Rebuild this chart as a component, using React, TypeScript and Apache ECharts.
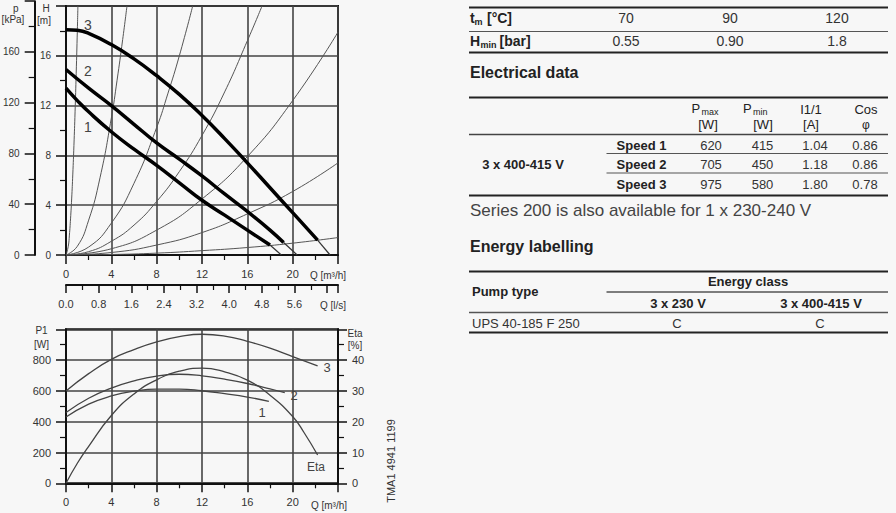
import React, { useEffect, useRef } from 'react';
import * as echarts from 'echarts';

const FONT = '"Liberation Sans", Arial, Helvetica, sans-serif';

// ---------- Top chart: H [m] vs Q [m³/h] ----------
const pumpCurve1 = [[0, 13.4], [1, 12.4], [2, 11.5], [4, 9.9], [6, 8.5], [8, 7.2], [10, 5.8], [12, 4.4], [14, 3.2], [16, 2.0], [18, 0.8]];
const pumpCurve2 = [[0, 14.9], [2, 13.4], [4, 12.0], [6, 10.5], [8, 9.0], [10, 7.7], [12, 6.35], [14, 4.9], [16, 3.5], [18, 2.0], [19.2, 1.0]];
const pumpCurve3 = [[0, 18.1], [1, 18.05], [2, 17.8], [4, 16.9], [6, 15.75], [8, 14.4], [10, 12.9], [12, 11.2], [14, 9.35], [16, 7.4], [18, 5.4], [20, 3.4], [22.2, 1.2]];
const pumpExt1 = [[18, 0.8], [19.0, 0]];
const pumpExt2 = [[19.2, 1.0], [20.4, 0]];
const pumpExt3 = [[22.2, 1.2], [23.3, 0]];

const systemCurve1 = [[0, 0], [0.2, 0.7], [0.3, 1.6], [0.4, 2.9], [0.5, 4.5], [0.6, 6.5], [0.7, 8.8], [0.8, 11.5], [0.9, 14.6], [1.0, 18.0], [1.05, 20]];
const systemCurve2 = [[0, 0], [1, 0.7], [2, 2.8], [3, 6.2], [4, 11.0], [4.5, 14.0], [5, 17.3], [5.38, 20]];
const systemCurve3 = [[0, 0], [2, 0.64], [4, 2.56], [6, 5.76], [8, 10.24], [9, 13.0], [10, 16.0], [11.18, 20]];
const systemCurve4 = [[0, 0], [2, 0.27], [4, 1.1], [6, 2.4], [8, 4.3], [10, 6.7], [12, 9.6], [14, 13.1], [16, 17.2], [17.3, 20]];
const systemCurve5 = [[0, 0], [4, 0.5], [8, 2.0], [12, 4.5], [16, 7.9], [20, 12.4], [24, 17.9]];
const systemCurve6 = [[0, 0], [4, 0.2], [8, 0.8], [12, 1.8], [16, 3.3], [20, 5.1], [24, 7.4]];
const systemCurve7 = [[0, 0], [4, 0.04], [8, 0.15], [12, 0.35], [16, 0.6], [20, 0.95], [24, 1.4]];
const systemCurves = [systemCurve1, systemCurve2, systemCurve3, systemCurve4, systemCurve5, systemCurve6, systemCurve7];

// ---------- Bottom chart: P1 [W] and Eta [%] vs Q ----------
const powerCurve1 = [[0, 430], [2, 514], [4, 567], [6, 598], [8, 612], [10, 612], [12, 601], [14, 582], [16, 560], [17.9, 532]];
const powerCurve2 = [[0, 460], [2, 552], [4, 618], [6, 665], [8, 696], [10, 708], [12, 698], [14, 676], [16, 648], [18, 613], [19.3, 588]];
const powerCurve3 = [[0, 600], [2, 712], [4, 805], [6, 868], [8, 918], [10, 952], [12, 968], [14, 956], [16, 922], [18, 878], [20, 823], [22.2, 762]];
const etaCurve = [[0, 0], [1, 6.5], [2, 12], [4, 22], [6, 29], [8, 33.6], [10, 36.4], [12, 37.4], [14, 36.2], [16, 33.5], [18, 28.6], [20, 21.7], [21, 16.5], [22.2, 9.2]];

// ---------- Tables ----------
const tempHeader = ['70', '90', '120'];
const hminValues = ['0.55', '0.90', '1.8'];
const speedLabels = ['Speed 1', 'Speed 2', 'Speed 3'];
const pmaxValues = ['620', '705', '975'];
const pminValues = ['415', '450', '580'];
const currentValues = ['1.04', '1.18', '1.80'];
const cosValues = ['0.86', '0.86', '0.78'];
const energyVoltages = ['3 x 230 V', '3 x 400-415 V'];
const energyClasses = ['C', 'C'];

function txt(x: number, y: number, text: string, size = 11, opts: any = {}) {
  const align = opts.align || 'left';
  return {
    type: 'text',
    x,
    y,
    silent: true,
    rotation: opts.rotation || 0,
    z: 100,
    style: {
      text,
      fill: opts.color || '#333',
      fontSize: size,
      fontFamily: FONT,
      fontWeight: opts.bold ? 'bold' : 'normal',
      align,
      textAlign: align,
      verticalAlign: 'middle',
      textVerticalAlign: 'middle',
    },
  };
}

function hline(x1: number, x2: number, y: number, w: number, color = '#222') {
  return {
    type: 'line',
    silent: true,
    z: 100,
    shape: { x1, y1: y, x2, y2: y },
    style: { stroke: color, lineWidth: w },
  };
}

function valueAxis(extra: any) {
  return {
    type: 'value',
    axisLine: { show: true, onZero: false, lineStyle: { color: '#111', width: 2 } },
    axisTick: { show: true, length: 9, lineStyle: { color: '#111', width: 1.5 } },
    minorTick: { show: true, splitNumber: 2, length: 5, lineStyle: { color: '#111', width: 1.2 } },
    axisLabel: { fontSize: 11, color: '#333', fontFamily: FONT },
    splitLine: { show: true, lineStyle: { color: '#444', width: 1.6 } },
    minorSplitLine: { show: false },
    ...extra,
  };
}

function lineSeries(data: number[][], xi: number, yi: number, color: string, width: number, z = 2) {
  return {
    type: 'line',
    data,
    xAxisIndex: xi,
    yAxisIndex: yi,
    showSymbol: false,
    symbol: 'none',
    smooth: true,
    silent: true,
    z,
    lineStyle: { color, width },
  };
}

export default function App() {
  const ref = useRef<HTMLDivElement>(null);

  useEffect(() => {
    if (!ref.current) return;
    const chart = echarts.init(ref.current, undefined, { renderer: 'svg' });

    const qLabel = (v: number) => (v >= 24 ? '' : String(v));

    const graphics: any[] = [];
    // Axis titles, top chart
    graphics.push(txt(13, 8.5, 'p', 10));
    graphics.push(txt(13, 19.5, '[kPa]', 10, { align: 'center' }));
    graphics.push(txt(46, 8, 'H', 10, { align: 'center' }));
    graphics.push(txt(44, 20.5, '[m]', 10, { align: 'center' }));
    graphics.push(txt(328, 275, 'Q [m³/h]', 10, { align: 'center' }));
    graphics.push(txt(333, 305, 'Q [l/s]', 10, { align: 'center' }));
    // Curve numbers, top chart
    graphics.push(txt(88, 25, '3', 14, { align: 'center', color: '#444' }));
    graphics.push(txt(88, 71, '2', 14, { align: 'center', color: '#444' }));
    graphics.push(txt(88, 127, '1', 14, { align: 'center', color: '#444' }));
    // Bottom chart titles
    graphics.push(txt(41.5, 330, 'P1', 10, { align: 'center' }));
    graphics.push(txt(41.5, 344.5, '[W]', 10, { align: 'center' }));
    graphics.push(txt(355, 333, 'Eta', 10, { align: 'center' }));
    graphics.push(txt(355, 345, '[%]', 10, { align: 'center' }));
    graphics.push(txt(329, 505, 'Q [m³/h]', 10, { align: 'center' }));
    graphics.push(txt(327, 367, '3', 13, { align: 'center', color: '#444' }));
    graphics.push(txt(294, 395, '2', 13, { align: 'center', color: '#444' }));
    graphics.push(txt(262, 412, '1', 13, { align: 'center', color: '#444' }));
    graphics.push(txt(316, 467, 'Eta', 12, { align: 'center', color: '#444' }));
    graphics.push(txt(391, 461, 'TMA1 4941 1199', 11, { align: 'center', rotation: Math.PI / 2 }));

    // ---- Table 1 ----
    const L = 469, R = 888;
    graphics.push(hline(L, R, 7.5, 2));
    graphics.push(hline(L, R, 31.5, 1.2, '#555'));
    graphics.push(hline(L, R, 52.5, 2));
    graphics.push(txt(470, 18, 't', 14, { bold: true, color: '#222' }));
    graphics.push(txt(474.5, 22, 'm', 9, { bold: true, color: '#222' }));
    graphics.push(txt(487, 18, '[°C]', 14, { bold: true, color: '#222' }));
    graphics.push(txt(470, 41, 'H', 14, { bold: true, color: '#222' }));
    graphics.push(txt(480.5, 45, 'min', 9, { bold: true, color: '#222' }));
    graphics.push(txt(499.5, 41, '[bar]', 14, { bold: true, color: '#222' }));
    const t1x = [626, 730, 837];
    tempHeader.forEach((t, i) => graphics.push(txt(t1x[i], 18, t, 14, { align: 'center', color: '#333' })));
    hminValues.forEach((t, i) => graphics.push(txt(t1x[i], 41, t, 14, { align: 'center', color: '#333' })));

    // ---- Electrical data ----
    graphics.push(txt(470, 72, 'Electrical data', 16, { bold: true, color: '#222' }));
    graphics.push(hline(L, R, 97.5, 2));
    graphics.push(txt(691.5, 108, 'P', 13, { color: '#222' }));
    graphics.push(txt(701.5, 112, 'max', 9, { color: '#222' }));
    graphics.push(txt(708, 124.5, '[W]', 13, { align: 'center', color: '#222' }));
    graphics.push(txt(743, 108, 'P', 13, { color: '#222' }));
    graphics.push(txt(753, 112, 'min', 9, { color: '#222' }));
    graphics.push(txt(763, 124.5, '[W]', 13, { align: 'center', color: '#222' }));
    graphics.push(txt(811, 109, 'I1/1', 13, { align: 'center', color: '#222' }));
    graphics.push(txt(811, 124.5, '[A]', 13, { align: 'center', color: '#222' }));
    graphics.push(txt(866, 109, 'Cos', 13, { align: 'center', color: '#222' }));
    graphics.push(txt(866, 124.5, 'φ', 12, { align: 'center', color: '#222' }));
    graphics.push(hline(L, R, 134.5, 1.5, '#444'));
    graphics.push(hline(606.5, R, 153.5, 1.2, '#555'));
    graphics.push(hline(606.5, R, 173, 1.2, '#555'));
    graphics.push(hline(L, R, 195.5, 2));
    graphics.push(txt(523, 164.5, '3 x 400-415 V', 13, { align: 'center', bold: true, color: '#222' }));
    const rowY = [145, 164.5, 184.5];
    speedLabels.forEach((s, i) => {
      graphics.push(txt(641.5, rowY[i], s, 13, { align: 'center', bold: true, color: '#222' }));
      graphics.push(txt(711, rowY[i], pmaxValues[i], 13, { align: 'center', color: '#333' }));
      graphics.push(txt(762.5, rowY[i], pminValues[i], 13, { align: 'center', color: '#333' }));
      graphics.push(txt(815, rowY[i], currentValues[i], 13, { align: 'center', color: '#333' }));
      graphics.push(txt(865, rowY[i], cosValues[i], 13, { align: 'center', color: '#333' }));
    });
    graphics.push(txt(470, 210.5, 'Series 200 is also available for 1 x 230-240 V', 17, { color: '#444' }));

    // ---- Energy labelling ----
    graphics.push(txt(470, 246.5, 'Energy labelling', 16, { bold: true, color: '#222' }));
    graphics.push(hline(L, R, 271.5, 2));
    graphics.push(txt(748, 281.5, 'Energy class', 13, { align: 'center', bold: true, color: '#222' }));
    graphics.push(hline(606.5, R, 292, 1.5, '#555'));
    graphics.push(txt(472, 291.5, 'Pump type', 13, { bold: true, color: '#222' }));
    const ex = [678, 821];
    energyVoltages.forEach((v, i) => graphics.push(txt(ex[i], 303.5, v, 13, { align: 'center', bold: true, color: '#222' })));
    graphics.push(hline(L, R, 312.5, 1.5, '#555'));
    graphics.push(txt(472, 323, 'UPS 40-185 F 250', 13, { color: '#333' }));
    energyClasses.forEach((c, i) => graphics.push(txt(ex[i] - 1, 323, c, 13, { align: 'center', color: '#333' })));
    graphics.push(hline(L, R, 332.5, 2));

    const series: any[] = [];
    systemCurves.forEach((c) => series.push(lineSeries(c, 0, 0, '#555', 1, 2)));
    [pumpExt1, pumpExt2, pumpExt3].forEach((c) => series.push(lineSeries(c, 0, 0, '#333', 1.2, 3)));
    [pumpCurve1, pumpCurve2, pumpCurve3].forEach((c) => series.push(lineSeries(c, 0, 0, '#000', 3.5, 4)));
    [powerCurve1, powerCurve2, powerCurve3].forEach((c) => series.push(lineSeries(c, 3, 3, '#444', 1.3, 3)));
    series.push(lineSeries(etaCurve, 3, 4, '#444', 1.3, 3));

    const option: any = {
      animation: false,
      backgroundColor: '#f7f7f7',
      textStyle: { fontFamily: FONT },
      grid: [
        { left: 66, top: 6, width: 272, height: 249, show: true, borderColor: '#111', borderWidth: 2, backgroundColor: 'transparent' },
        { left: 31, top: 1.2, width: 10, height: 253.8, show: false },
        { left: 66, top: 284, width: 272, height: 1, show: false },
        { left: 66, top: 329.3, width: 272, height: 154, show: true, borderColor: '#111', borderWidth: 2, backgroundColor: 'transparent' },
      ],
      xAxis: [
        valueAxis({
          gridIndex: 0, min: 0, max: 24, interval: 4, position: 'bottom',
          axisLabel: { fontSize: 11, color: '#333', fontFamily: FONT, margin: 13, formatter: qLabel },
        }),
        { type: 'value', gridIndex: 1, min: 0, max: 1, show: false },
        valueAxis({
          gridIndex: 2, min: 0, max: 24 / 3.6, interval: 0.8, position: 'bottom',
          splitLine: { show: false },
          axisTick: { show: true, length: 8, lineStyle: { color: '#111', width: 1.5 } },
          axisLabel: {
            fontSize: 11, color: '#333', fontFamily: FONT, margin: 13,
            formatter: (v: number) => (v > 6 ? '' : v.toFixed(1)),
          },
        }),
        valueAxis({
          gridIndex: 3, min: 0, max: 24, interval: 4, position: 'bottom',
          axisLabel: { fontSize: 11, color: '#333', fontFamily: FONT, margin: 13, formatter: qLabel },
        }),
      ],
      yAxis: [
        valueAxis({
          gridIndex: 0, min: 0, max: 20, interval: 4, position: 'left',
          axisTick: { show: true, length: 10, lineStyle: { color: '#111', width: 1.5 } },
          minorTick: { show: true, splitNumber: 2, length: 6, lineStyle: { color: '#111', width: 1.2 } },
          axisLabel: { fontSize: 10, color: '#333', fontFamily: FONT, margin: 15, formatter: (v: number) => (v >= 20 ? '' : String(v)) },
        }),
        valueAxis({
          gridIndex: 1, min: 0, max: 200, interval: 40, position: 'left',
          splitLine: { show: false },
          axisTick: { show: true, length: 10, lineStyle: { color: '#111', width: 1.5 } },
          minorTick: { show: true, splitNumber: 2, length: 6, lineStyle: { color: '#111', width: 1.2 } },
          axisLabel: { fontSize: 10, color: '#333', fontFamily: FONT, margin: 15, formatter: (v: number) => (v >= 200 ? '' : String(v)) },
        }),
        { type: 'value', gridIndex: 2, min: 0, max: 1, show: false },
        valueAxis({
          gridIndex: 3, min: 0, max: 1000, interval: 200, position: 'left',
          axisTick: { show: true, length: 10, lineStyle: { color: '#111', width: 1.5 } },
          minorTick: { show: true, splitNumber: 2, length: 6, lineStyle: { color: '#111', width: 1.2 } },
          axisLabel: { fontSize: 11, color: '#333', fontFamily: FONT, margin: 15, formatter: (v: number) => (v >= 1000 ? '' : String(v)) },
        }),
        valueAxis({
          gridIndex: 3, min: 0, max: 50, interval: 10, position: 'right',
          splitLine: { show: false },
          axisTick: { show: true, length: 9, lineStyle: { color: '#111', width: 1.5 } },
          minorTick: { show: true, splitNumber: 2, length: 6, lineStyle: { color: '#111', width: 1.2 } },
          axisLabel: { fontSize: 11, color: '#333', fontFamily: FONT, margin: 14, formatter: (v: number) => (v >= 50 ? '' : String(v)) },
        }),
      ],
      series,
      graphic: { elements: graphics },
    };

    chart.setOption(option);
    return () => chart.dispose();
  }, []);

  return (
    <div
      ref={ref}
      style={{ position: 'fixed', left: 0, top: 0, width: 896, height: 513 }}
    />
  );
}
